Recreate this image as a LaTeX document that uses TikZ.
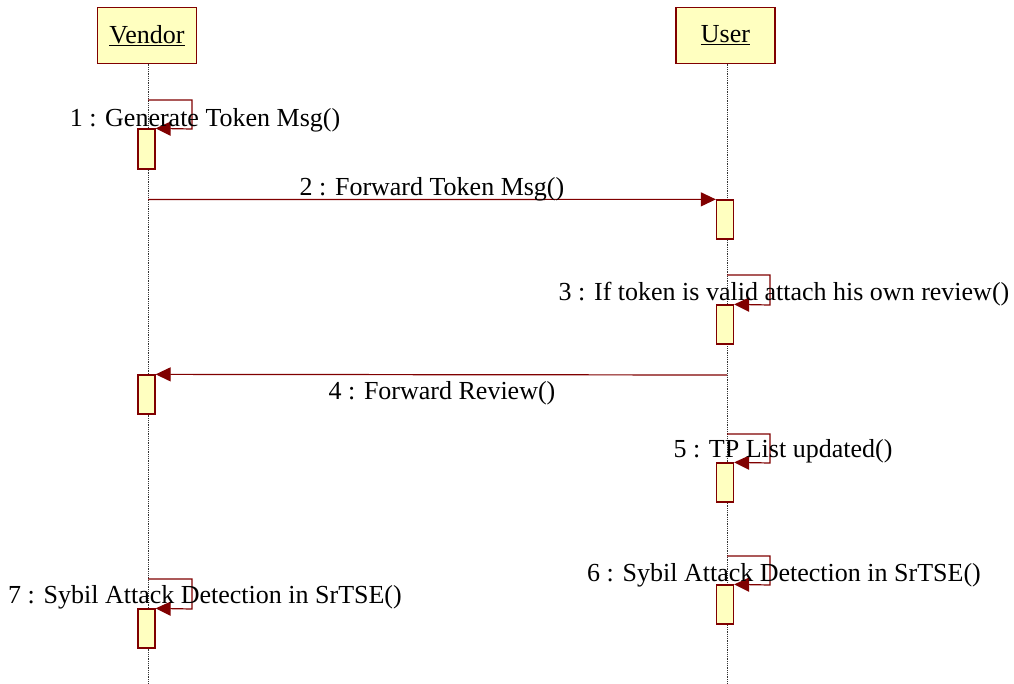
\documentclass[tikz,border=0pt]{standalone}
\usepackage{fontspec}
\setmainfont{Liberation Serif}
\usetikzlibrary{arrows.meta}
\definecolor{umlred}{RGB}{128,0,0}
\definecolor{umlfill}{RGB}{255,255,192}
\tikzset{
  objbox/.style={draw=umlred, line width=1.3pt, fill=umlfill, minimum width=99pt, minimum height=56pt, inner sep=0pt, font=\fontsize{26}{30}\selectfont},
  actbox/.style={draw=umlred, line width=1.3pt, fill=umlfill, minimum width=17pt, minimum height=39pt, inner sep=0pt},
  lifeline/.style={densely dotted, line width=0.8pt, black!80},
  msg/.style={draw=umlred, line width=1.2pt, -{Triangle[length=15pt,width=14pt]}},
  msglabel/.style={anchor=base, inner sep=0pt, font=\fontsize{26}{30}\selectfont}
}
\begin{document}
\begin{tikzpicture}[x=1pt,y=-1pt]
\useasboundingbox (0,0) rectangle (1014,683);
% objects
\node[objbox] (vendor) at (147,35.5) {\underline{Vendor}};
\node[objbox] (user) at (725.5,35.5) {\underline{User}};
% lifelines
\coordinate (vend) at (148,683);
\coordinate (usend) at (727,683);
\draw[lifeline] (148,63.5) -- (vend);
\draw[lifeline] (727,63.5) -- (usend);
% activations
\node[actbox, minimum height=40pt] (a1) at (146.5,149) {};
\node[actbox] (a2) at (725,219.5) {};
\node[actbox] (a3) at (725,324.5) {};
\node[actbox] (a4) at (146.5,394.5) {};
\node[actbox] (a5) at (725,482.5) {};
\node[actbox] (a6) at (725,604.5) {};
\node[actbox] (a7) at (146.5,628.5) {};
% message 1 (self)
\coordinate (s1) at (148,100);
\coordinate (c1) at (192,100);
\coordinate (d1) at (192,129);
\draw[msg] (s1) -- (c1) -- (d1) -- (a1.north east);
\node[msglabel] (l1) at (205,126) {1 : Generate Token Msg()};
% message 2
\coordinate (s2) at (148,199.5);
\draw[msg] (s2) -- (a2.north west);
\node[msglabel] (l2) at (432,195) {2 : Forward Token Msg()};
% message 3 (self)
\coordinate (s3) at (727,275);
\coordinate (c3) at (770,275);
\coordinate (d3) at (770,305);
\draw[msg] (s3) -- (c3) -- (d3) -- (a3.north east);
\node[msglabel] (l3) at (784,300) {3 : If token is valid attach his own review()};
% message 4
\coordinate (s4) at (727,375);
\draw[msg] (s4) -- (a4.north east);
\node[msglabel] (l4) at (442,399) {4 : Forward Review()};
% message 5 (self)
\coordinate (s5) at (727,434);
\coordinate (c5) at (770,434);
\coordinate (d5) at (770,463);
\draw[msg] (s5) -- (c5) -- (d5) -- (a5.north east);
\node[msglabel] (l5) at (783,457) {5 : TP List updated()};
% message 6 (self)
\coordinate (s6) at (727,556);
\coordinate (c6) at (770,556);
\coordinate (d6) at (770,585);
\draw[msg] (s6) -- (c6) -- (d6) -- (a6.north east);
\node[msglabel] (l6) at (784,581) {6 : Sybil Attack Detection in SrTSE()};
% message 7 (self)
\coordinate (s7) at (148,579);
\coordinate (c7) at (192,579);
\coordinate (d7) at (192,609);
\draw[msg] (s7) -- (c7) -- (d7) -- (a7.north east);
\node[msglabel] (l7) at (205,603) {7 : Sybil Attack Detection in SrTSE()};
\end{tikzpicture}
\end{document}
